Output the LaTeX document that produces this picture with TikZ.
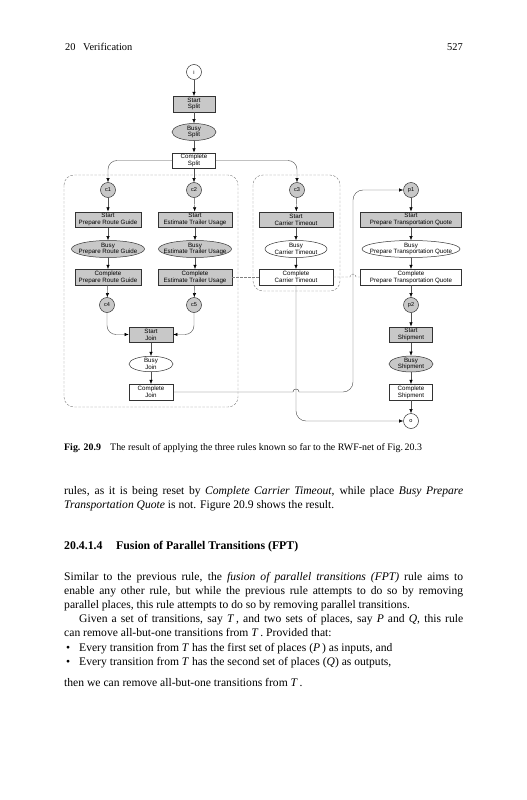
\documentclass[tikz,border=0pt]{standalone}
\usepackage{fontspec}
\setmainfont{Liberation Serif}
\newfontfamily\diagfont{Liberation Sans}
\usetikzlibrary{arrows.meta,shapes.geometric}
\definecolor{fillg}{HTML}{C8C8C8}
\definecolor{lineg}{HTML}{505050}
\tikzset{
  lbl/.style={inner sep=0pt, align=center, font=\diagfont\fontsize{6.2}{6.9}\selectfont},
  trans/.style={rectangle, draw=black!80, line width=0.5pt, minimum height=15.5pt, inner xsep=1pt, inner ysep=0.5pt, align=center, font=\diagfont\fontsize{6.2}{6.9}\selectfont},
  gtrans/.style={trans, fill=fillg},
  busy/.style={ellipse, draw=black!80, line width=0.5pt, minimum height=17pt, inner sep=0pt},
  gbusy/.style={busy, fill=fillg},
  place/.style={circle, draw=black!80, line width=0.5pt, minimum size=15pt, inner sep=0pt, font=\diagfont\fontsize{5.6}{6}\selectfont},
  gplace/.style={place, fill=fillg},
  arc/.style={draw=lineg, line width=0.45pt, -{Latex[length=4.2pt,width=3.4pt,color=black]}},
  plainline/.style={draw=lineg, line width=0.45pt},
  resetline/.style={draw=gray, dash pattern=on 2.5pt off 1.5pt, line width=0.45pt},
  region/.style={draw=gray, dash pattern=on 2.5pt off 1.5pt, rounded corners=10pt, line width=0.45pt},
  txt/.style={anchor=base west, inner sep=0pt, font=\fontsize{11.6}{14}\selectfont},
  hdtxt/.style={anchor=base west, inner sep=0pt, font=\fontsize{11.8}{14}\selectfont},
  captxt/.style={anchor=base west, inner sep=0pt, font=\fontsize{9.9}{11}\selectfont},
  headtxt/.style={anchor=base west, inner sep=0pt, font=\fontsize{10.4}{12}\selectfont},
}
\begin{document}
\begin{tikzpicture}[x=1pt,y=-1pt]
\useasboundingbox (0,0) rectangle (527,800);
\fill[white] (0,0) rectangle (527,800);

% header
\node[headtxt] (hnum) at (65,51) {20};
\node[headtxt] (htitle) at (83,51) {Verification};
\node[headtxt, anchor=base east] (hpage) at (463,51) {527};

% dashed regions
\draw[region] (64,175) rectangle (238,407);
\draw[region] (253,175) rectangle (340,291);

% split
\node[place] (i) at (194,72) {i};
\node[gtrans, minimum width=42pt] (ss) at (194,104) {Start\\Split};
\node[gbusy, minimum width=44pt, label={[lbl]center:Busy\\Split}] (bs) at (194,132) {};
\node[trans, minimum width=43pt] (cs) at (194,160.5) {Complete\\Split};

% places
\node[gplace] (c1) at (108,190) {c1};
\node[gplace] (c2) at (194,190) {c2};
\node[gplace] (c3) at (297,190) {c3};
\node[gplace] (p1) at (411,190) {p1};

% column 1
\node[gtrans, minimum width=66pt] (sprg) at (108,219.5) {Start\\Prepare Route Guide};
\node[gbusy, minimum width=73pt, label={[lbl]center:Busy\\Prepare Route Guide}] (bprg) at (108,249) {};
\node[gtrans, minimum width=66pt] (cprg) at (108,277) {Complete\\Prepare Route Guide};
% column 2
\node[gtrans, minimum width=74pt] (setu) at (195,219.5) {Start\\Estimate Trailer Usage};
\node[gbusy, minimum width=73pt, label={[lbl]center:Busy\\Estimate Trailer Usage}] (betu) at (195,249) {};
\node[gtrans, minimum width=74pt] (cetu) at (195,277) {Complete\\Estimate Trailer Usage};
% column 3
\node[gtrans, minimum width=74pt] (sct) at (296,219.5) {Start\\Carrier Timeout};
\node[busy, minimum width=62pt, label={[lbl]center:Busy\\Carrier Timeout}] (bct) at (296,249) {};
\node[trans, minimum width=74pt] (cct) at (296,277) {Complete\\Carrier Timeout};
% column 4
\node[gtrans, minimum width=101pt] (sptq) at (411,219.5) {Start\\Prepare Transportation Quote};
\node[busy, minimum width=98pt, label={[lbl]center:Busy\\Prepare Transportation Quote}] (bptq) at (411,249) {};
\node[trans, minimum width=101pt] (cptq) at (411,277) {Complete\\Prepare Transportation Quote};

\node[gplace] (c4) at (107,305) {c4};
\node[gplace] (c5) at (194,305) {c5};
\node[gplace] (p2) at (411,305) {p2};

% join
\node[gtrans, minimum width=44pt] (sj) at (151,334.5) {Start\\Join};
\node[busy, minimum width=44pt, minimum height=15.5pt, label={[lbl]center:Busy\\Join}] (bj) at (151,364) {};
\node[trans, minimum width=44pt] (cj) at (151,392) {Complete\\Join};
% shipment
\node[gtrans, minimum width=43pt] (ssh) at (411,334.5) {Start\\Shipment};
\node[gbusy, minimum width=44pt, minimum height=16pt, label={[lbl]center:Busy\\Shipment}] (bsh) at (411,364) {};
\node[trans, minimum width=43pt] (csh) at (411,392) {Complete\\Shipment};
\node[place] (o) at (411,421) {o};

% hop coordinates
\coordinate (h1a) at (293,392);
\coordinate (h1b) at (299,392);
\coordinate (h1c) at (293,388);
\coordinate (h1d) at (299,388);
\coordinate (jturn) at (353,392);
\coordinate (h2a) at (350,277);
\coordinate (h2b) at (356,277);
\coordinate (h2c) at (350,273);
\coordinate (h2d) at (356,273);

% arcs
\draw[arc] (i) -- (ss);
\draw[arc] (ss) -- (bs);
\draw[arc] (bs) -- (cs);
\draw[arc, rounded corners=9pt] (cs.west) -| (c1.north);
\draw[arc] (cs) -- (c2);
\draw[arc, rounded corners=9pt] (cs.east) -| (c3.north);

\draw[arc] (c1) -- (sprg);
\draw[arc] (sprg) -- (bprg);
\draw[arc] (bprg) -- (cprg);
\draw[arc] (cprg) -- (c4);
\draw[arc] (c2) -- (setu);
\draw[arc] (setu) -- (betu);
\draw[arc] (betu) -- (cetu);
\draw[arc] (cetu) -- (c5);
\draw[arc] (c3) -- (sct);
\draw[arc] (sct) -- (bct);
\draw[arc] (bct) -- (cct);
\draw[arc] (p1) -- (sptq);
\draw[arc] (sptq) -- (bptq);
\draw[arc] (bptq) -- (cptq);
\draw[arc] (cptq) -- (p2);

\draw[arc, rounded corners=9pt] (c4.south) |- (sj.west);
\draw[arc, rounded corners=9pt] (c5.south) |- (sj.east);
\draw[arc] (sj) -- (bj);
\draw[arc] (bj) -- (cj);

\draw[arc] (p2) -- (ssh);
\draw[arc] (ssh) -- (bsh);
\draw[arc] (bsh) -- (csh);
\draw[arc] (csh) -- (o);

\draw[arc, rounded corners=10pt] (cct.south) |- (o.west);
\draw[plainline] (cj.east) -- (h1a) .. controls (h1c) and (h1d) .. (h1b);
\draw[arc, rounded corners=10pt] (h1b) -- (jturn) |- (p1.west);

\draw[resetline] (cetu.east) -- (cct.west);
\draw[resetline] (cct.east) -- (h2a) .. controls (h2c) and (h2d) .. (h2b) -- (cptq.west);

% caption
\node[captxt] (capa) at (64,450) {\textbf{Fig. 20.9}};
\node[captxt] (capb) at (110,450) {The result of applying the three rules known so far to the RWF-net of Fig.\,20.3};

% text
\node[txt] (t1) at (64,494) {\makebox[399pt][s]{rules, as it is being reset by \textit{Complete Carrier Timeout}, while place \textit{Busy Prepare}}};
\node[txt] (t2) at (64,508) {\textit{Transportation Quote} is not. Figure 20.9 shows the result.};

\node[hdtxt] (hd1) at (64,549) {\textbf{20.4.1.4}};
\node[hdtxt] (hd2) at (116,549) {\textbf{Fusion of Parallel Transitions (FPT)}};

\node[txt] (p1l1) at (64,580) {\makebox[399pt][s]{Similar to the previous rule, the \textit{fusion of parallel transitions (FPT)} rule aims to}};
\node[txt] (p1l2) at (64,594) {\makebox[399pt][s]{enable any other rule, but while the previous rule attempts to do so by removing}};
\node[txt] (p1l3) at (64,608) {parallel places, this rule attempts to do so by removing parallel transitions.};
\node[txt] (p2l1) at (79,622) {\makebox[384pt][s]{Given a set of transitions, say \textit{T}\,, and two sets of places, say \textit{P} and \textit{Q}, this rule}};
\node[txt] (p2l2) at (64,636) {can remove all-but-one transitions from \textit{T}\,. Provided that:};
\node[txt] (b1d) at (66,651) {\textbullet};
\node[txt] (b1) at (79,651) {Every transition from \textit{T} has the first set of places (\textit{P}\,) as inputs, and};
\node[txt] (b2d) at (66,665) {\textbullet};
\node[txt] (b2) at (79,665) {Every transition from \textit{T} has the second set of places (\textit{Q}) as outputs,};
\node[txt] (p3) at (64,686) {then we can remove all-but-one transitions from \textit{T}\,.};
\end{tikzpicture}
\end{document}
